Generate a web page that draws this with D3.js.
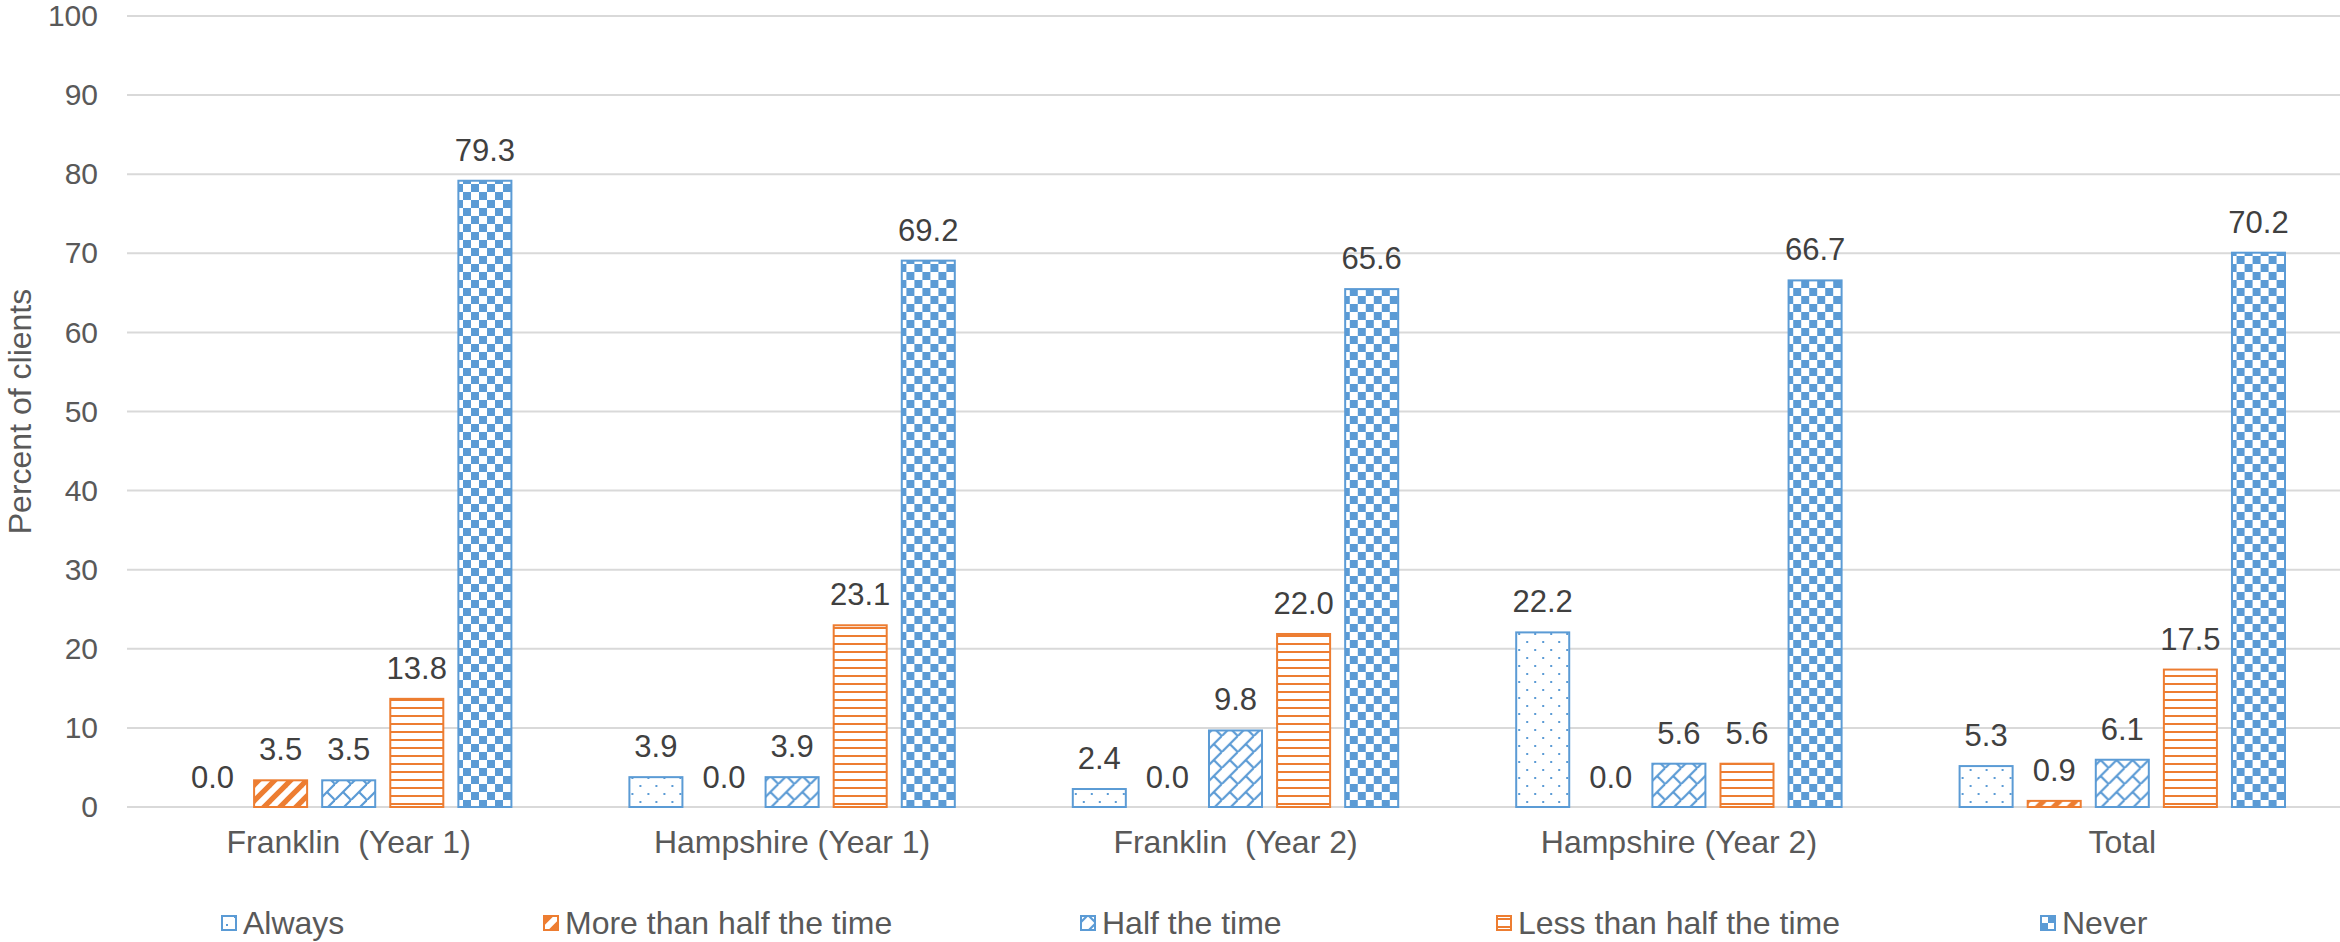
<!DOCTYPE html>
<html>
<head>
<meta charset="utf-8">
<script src="https://cdn.jsdelivr.net/npm/d3@7"></script>
<style>
  html, body { margin: 0; padding: 0; background: #fff; }
  svg { display: block; }
  text { font-family: "Liberation Sans", Arial, sans-serif; }
</style>
</head>
<body>
<svg id="chart" width="2340" height="942"></svg>
<script>
// Survey groups along the x axis
const categories = ["Franklin  (Year 1)", "Hampshire (Year 1)", "Franklin  (Year 2)", "Hampshire (Year 2)", "Total"];

// Response options (one bar each per group)
const seriesNames = ["Always", "More than half the time", "Half the time", "Less than half the time", "Never"];

// Percent of clients per response, in category order
const always        = [0.0, 3.9, 2.4, 22.2, 5.3];
const moreThanHalf  = [3.5, 0.0, 0.0, 0.0, 0.9];
const halfTime      = [3.5, 3.9, 9.8, 5.6, 6.1];
const lessThanHalf  = [13.8, 23.1, 22.0, 5.6, 17.5];
const never         = [79.3, 69.2, 65.6, 66.7, 70.2];

const yTicks = [0, 10, 20, 30, 40, 50, 60, 70, 80, 90, 100];

const seriesValues = [always, moreThanHalf, halfTime, lessThanHalf, never];

const BLUE = "#5B9BD5";
const ORANGE = "#ED7D31";
const seriesColor = [BLUE, ORANGE, BLUE, ORANGE, BLUE];
const patternIds = ["pDots", "pWideUp", "pBrick", "pHoriz", "pChecker"];

const svg = d3.select("#chart");

// ---- fill patterns ----
const defs = svg.append("defs");

function tile(id) {
  const p = defs.append("pattern")
    .attr("id", id)
    .attr("patternUnits", "userSpaceOnUse")
    .attr("width", 16).attr("height", 16);
  p.append("rect").attr("width", 16).attr("height", 16).attr("fill", "#fff");
  return p;
}

// sparse dots
{
  const p = tile("pDots");
  p.append("rect").attr("x", 5).attr("y", 1).attr("width", 2).attr("height", 2).attr("fill", BLUE);
  p.append("rect").attr("x", 13).attr("y", 9).attr("width", 2).attr("height", 2).attr("fill", BLUE);
}
// wide upward diagonal
{
  const p = tile("pWideUp");
  const g = p.append("g").attr("stroke", ORANGE).attr("stroke-width", 5.2);
  [[-8, 8, 8, -8], [0, 16, 16, 0], [8, 24, 24, 8]].forEach(([x1, y1, x2, y2]) =>
    g.append("line").attr("x1", x1).attr("y1", y1).attr("x2", x2).attr("y2", y2));
}
// diagonal brick
{
  const p = tile("pBrick");
  const g = p.append("g").attr("stroke", BLUE).attr("stroke-width", 2.2).attr("fill", "none");
  g.append("line").attr("x1", -1).attr("y1", 17).attr("x2", 17).attr("y2", -1);
  g.append("line").attr("x1", 8).attr("y1", 8).attr("x2", 17).attr("y2", 17);
  g.append("line").attr("x1", -1).attr("y1", -1).attr("x2", 0.5).attr("y2", 0.5);
}
// light horizontal lines
{
  const p = tile("pHoriz");
  p.append("rect").attr("x", 0).attr("y", 3).attr("width", 16).attr("height", 2).attr("fill", ORANGE);
  p.append("rect").attr("x", 0).attr("y", 11).attr("width", 16).attr("height", 2).attr("fill", ORANGE);
}
// large checkerboard
{
  const p = tile("pChecker");
  p.append("rect").attr("x", 0).attr("y", 0).attr("width", 8).attr("height", 8).attr("fill", BLUE);
  p.append("rect").attr("x", 8).attr("y", 8).attr("width", 8).attr("height", 8).attr("fill", BLUE);
}

// ---- scales ----
const plotLeft = 127, plotRight = 2344, plotTop = 16, plotBottom = 807;

const y = d3.scaleLinear().domain([0, 100]).range([plotBottom, plotTop]);
const x0 = d3.scaleBand().domain(categories).range([plotLeft, plotRight]).padding(0);
const groupMargin = 58;
const x1 = d3.scaleBand().domain(seriesNames)
  .range([groupMargin, x0.bandwidth() - groupMargin])
  .paddingInner(0.192).paddingOuter(0);

// ---- gridlines ----
svg.append("g")
  .selectAll("line")
  .data(yTicks)
  .join("line")
  .attr("x1", plotLeft).attr("x2", plotRight)
  .attr("y1", d => y(d)).attr("y2", d => y(d))
  .attr("stroke", "#D9D9D9").attr("stroke-width", 2);

// ---- y axis labels ----
const yAxis = d3.axisLeft(y).tickValues(yTicks).tickSize(0).tickPadding(0);
const yg = svg.append("g").attr("transform", `translate(98,0)`).call(yAxis);
yg.select(".domain").remove();
yg.selectAll("text")
  .attr("font-size", 30)
  .attr("fill", "#595959")
  .attr("font-family", "Liberation Sans, Arial, sans-serif");

svg.append("text")
  .attr("transform", `translate(31,${(plotTop + plotBottom) / 2}) rotate(-90)`)
  .attr("text-anchor", "middle")
  .attr("font-size", 32)
  .attr("fill", "#595959")
  .text("Percent of clients");

// ---- bars ----
const groups = svg.append("g")
  .selectAll("g")
  .data(categories)
  .join("g")
  .attr("transform", d => `translate(${x0(d)},0)`);

const barData = (cat, ci) => seriesNames.map((s, si) => ({ s, si, v: seriesValues[si][ci] }));

groups.each(function (cat, ci) {
  const g = d3.select(this);
  const data = barData(cat, ci);
  g.selectAll("rect")
    .data(data.filter(d => d.v > 0))
    .join("rect")
    .attr("x", d => x1(d.s) + 1)
    .attr("width", x1.bandwidth() - 2)
    .attr("y", d => y(d.v) + 1)
    .attr("height", d => Math.max(0, y(0) - y(d.v) - 1))
    .attr("fill", d => `url(#${patternIds[d.si]})`)
    .attr("stroke", d => seriesColor[d.si])
    .attr("stroke-width", 2);

  g.selectAll("text.lbl")
    .data(data)
    .join("text")
    .attr("class", "lbl")
    .attr("x", d => x1(d.s) + x1.bandwidth() / 2)
    .attr("y", d => y(d.v) - 19)
    .attr("text-anchor", "middle")
    .attr("font-size", 31)
    .attr("fill", "#404040")
    .text(d => d.v.toFixed(1));
});

// ---- category labels ----
svg.append("g")
  .selectAll("text")
  .data(categories)
  .join("text")
  .attr("x", d => x0(d) + x0.bandwidth() / 2)
  .attr("y", 853)
  .attr("text-anchor", "middle")
  .attr("font-size", 32)
  .attr("fill", "#595959")
  .style("white-space", "pre")
  .text(d => d);

// ---- legend ----
const legendX = [221, 543, 1080, 1496, 2040];
const legend = svg.append("g")
  .selectAll("g")
  .data(seriesNames)
  .join("g")
  .attr("transform", (d, i) => `translate(${legendX[i]},923)`);

legend.append("rect")
  .attr("x", 1).attr("y", -7)
  .attr("width", 14).attr("height", 14)
  .attr("fill", (d, i) => `url(#${patternIds[i]})`)
  .attr("stroke", (d, i) => seriesColor[i])
  .attr("stroke-width", 2);

legend.append("text")
  .attr("x", 22)
  .attr("y", 11)
  .attr("font-size", 32)
  .attr("fill", "#595959")
  .text(d => d);
</script>
</body>
</html>
